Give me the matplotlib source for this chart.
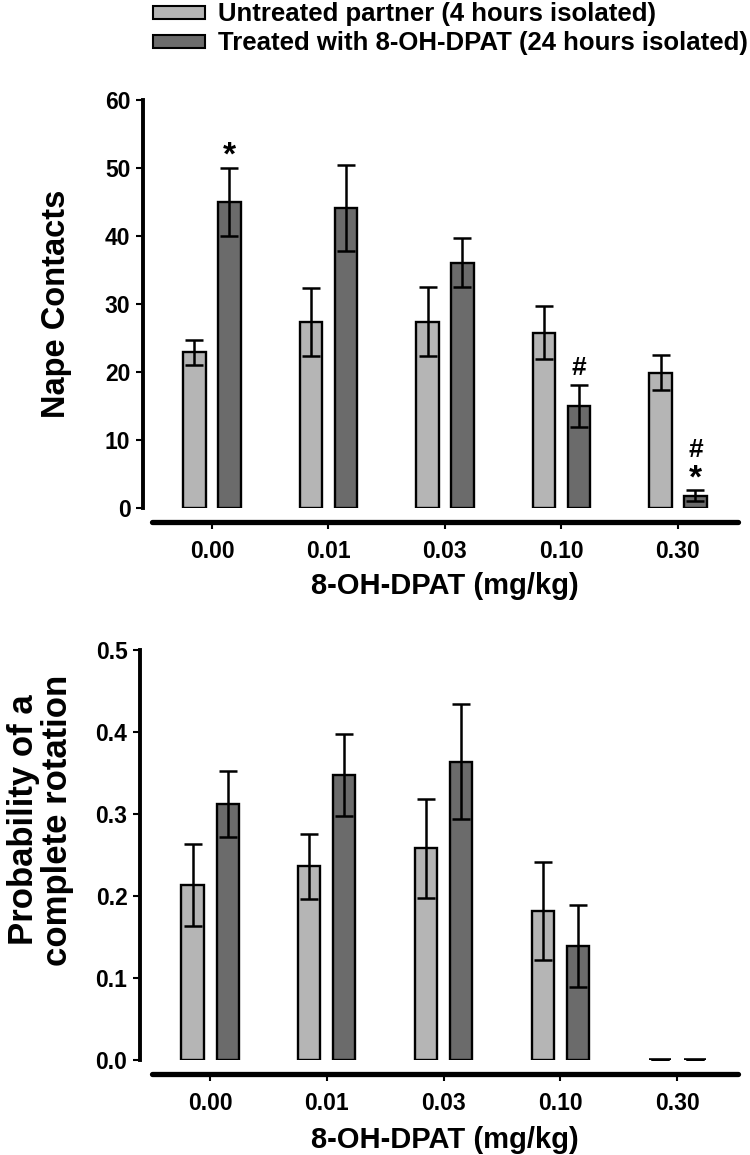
import numpy as np
import matplotlib
matplotlib.use("Agg")
import matplotlib.pyplot as plt
from matplotlib.patches import Patch

plt.rcParams["font.family"] = ["Liberation Sans", "DejaVu Sans"]
plt.rcParams["font.weight"] = "bold"

# ---- data ---------------------------------------------------------------
doses = ["0.00", "0.01", "0.03", "0.10", "0.30"]
series_names = ["Untreated partner (4 hours isolated)",
                "Treated with 8-OH-DPAT (24 hours isolated)"]

nape_untreated = [22.9, 27.4, 27.4, 25.8, 19.9]
nape_untreated_err = [1.8, 5.0, 5.1, 3.9, 2.6]
nape_treated = [45.0, 44.1, 36.1, 15.0, 1.8]
nape_treated_err = [5.0, 6.3, 3.6, 3.1, 0.8]
# significance marks above the treated bars, listed bottom to top
nape_marks = [["*"], [], [], ["#"], ["*", "#"]]

rot_untreated = [0.213, 0.236, 0.258, 0.182, 0.0]
rot_untreated_err = [0.050, 0.040, 0.060, 0.060, 0.0]
rot_treated = [0.312, 0.347, 0.364, 0.139, 0.0]
rot_treated_err = [0.040, 0.050, 0.070, 0.050, 0.0]

LIGHT = "#b5b5b5"
DARK = "#6b6b6b"
W, H = 750, 1155
OFF = 0.15
BW = 0.19
PX = 72 / 100  # points per pixel at dpi 100


def px_axes(left, right, top, bottom):
    # figure-pixel box -> axes rect
    return [left / W, 1 - bottom / H, (right - left) / W, (bottom - top) / H]


def draw_panel(ax, a, a_err, b, b_err, ylim, yticks, yfmt, xlim, spine_left):
    x = np.arange(len(doses))
    ekw = dict(elinewidth=1.8, capthick=1.8, ecolor="black")
    # zero-height bars show up as a short black dash, as in the original
    lw_a = [1.7 if v > 0 else 2.6 for v in a]
    lw_b = [1.7 if v > 0 else 2.6 for v in b]
    ax.bar(x - OFF, a, BW, color=LIGHT, edgecolor="black", linewidth=lw_a,
           yerr=a_err, capsize=6.5, error_kw=ekw, zorder=2)
    ax.bar(x + OFF, b, BW, color=DARK, edgecolor="black", linewidth=lw_b,
           yerr=b_err, capsize=6.5, error_kw=ekw, zorder=2)
    ax.set_xlim(*xlim)
    ax.set_ylim(*ylim)
    ax.set_yticks(yticks)
    ax.set_yticklabels([yfmt.format(t) for t in yticks])
    ax.set_xticks(x)
    ax.set_xticklabels(doses)
    for s in ("top", "right"):
        ax.spines[s].set_visible(False)
    ax.spines["left"].set_linewidth(2.8)
    ax.spines["bottom"].set_linewidth(3.8)
    ax.spines["bottom"].set_capstyle("round")
    ax.spines["bottom"].set_position(("outward", 10))
    ax.spines["bottom"].set_bounds(spine_left, xlim[1])
    ax.tick_params(axis="y", direction="out", length=5, width=1.5,
                   labelsize=16.5, pad=4)
    ax.tick_params(axis="x", direction="out", length=5, width=1.5,
                   labelsize=16.5, pad=8)
    ax.set_xlabel("8-OH-DPAT (mg/kg)", fontsize=21, fontweight="bold")
    return x


fig = plt.figure(figsize=(W / 100, H / 100), dpi=100)

# top panel: nape contacts
ax1 = fig.add_axes(px_axes(143, 738, 100, 508))
x = draw_panel(ax1, nape_untreated, nape_untreated_err, nape_treated,
               nape_treated_err, (0, 60), np.arange(0, 61, 10), "{:.0f}",
               (-0.592, 4.515), -0.515)
ax1.set_ylabel("Nape Contacts", fontsize=23.5, fontweight="bold")
ax1.yaxis.set_label_coords(-0.119, 0.5)
ax1.xaxis.set_label_coords(0.508, -0.158)
base = {"*": 3, "#": 10}
size = {"*": 24, "#": 19}
for xi, top, err, marks in zip(x, nape_treated, nape_treated_err, nape_marks):
    for level, m in enumerate(marks):
        dy = (base[m] if level == 0 else base[marks[0]] + 30 * level) * PX
        ax1.annotate(m, xy=(xi + OFF, top + err), xytext=(0, dy),
                     textcoords="offset points", ha="center", va="baseline",
                     fontsize=size[m], fontweight="bold")

# bottom panel: probability of complete rotation
ax2 = fig.add_axes(px_axes(140, 738, 650, 1060))
draw_panel(ax2, rot_untreated, rot_untreated_err, rot_treated,
           rot_treated_err, (0, 0.5), np.arange(0, 0.51, 0.1), "{:.1f}",
           (-0.6, 4.52), -0.5)
ax2.set_ylabel("Probability of a\ncomplete rotation", fontsize=25,
               fontweight="bold", linespacing=1.05)
ax2.yaxis.set_label_coords(-0.11, 0.585)
ax2.xaxis.set_label_coords(0.509, -0.16)

handles = [Patch(facecolor=LIGHT, edgecolor="black", linewidth=1.5),
           Patch(facecolor=DARK, edgecolor="black", linewidth=1.5)]
fig.legend(handles, series_names, loc="upper left",
           bbox_to_anchor=(143 / W, 1 + 8 / H), frameon=False,
           fontsize=18.5, handlelength=2.0, handleheight=0.4,
           handletextpad=0.5, labelspacing=0.2, borderaxespad=0.0)

fig.savefig("out.png", dpi=100)
